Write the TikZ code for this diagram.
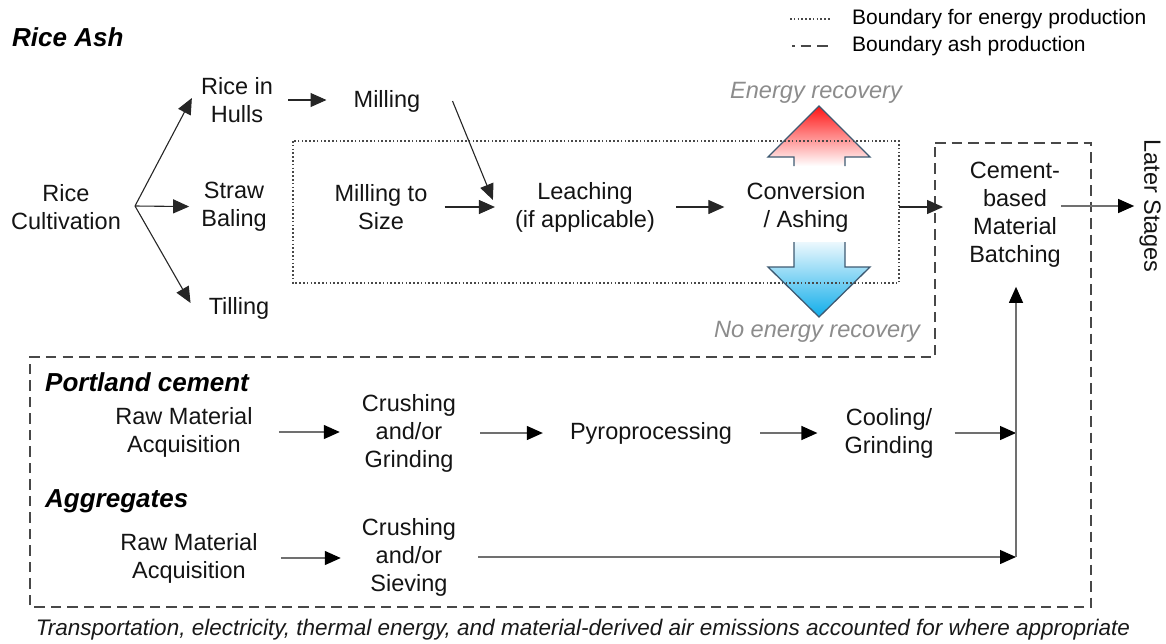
\documentclass[tikz,border=0pt]{standalone}
\usepackage{fontspec}
\setmainfont{Liberation Sans}
\usetikzlibrary{arrows.meta}
\definecolor{boxgray}{HTML}{484848}
\definecolor{linegray}{HTML}{707070}
\definecolor{labgray}{HTML}{8C8C8C}
\definecolor{outline}{HTML}{3E5A72}
\definecolor{hotred}{HTML}{FF1414}
\definecolor{coolblue}{HTML}{10ADEA}
\begin{document}
\begin{tikzpicture}[x=1pt,y=-1pt,>={Triangle[length=16pt,width=14pt]},
    txt/.style={align=center,inner sep=0pt,text=black!92,font=\fontsize{23.5}{28}\selectfont},
    head/.style={anchor=west,inner sep=0pt,font=\fontsize{26}{30}\selectfont\bfseries\itshape},
    gtxt/.style={inner sep=0pt,text=labgray,font=\fontsize{23.6}{28}\selectfont\itshape},
    legtxt/.style={anchor=west,inner sep=0pt,font=\fontsize{21}{25}\selectfont},
    flow/.style={->,line width=1.1pt,black!85},
    gflow/.style={-{Triangle[length=16pt,width=14pt,color=black]},line width=1.3pt,linegray},
    dotbox/.style={boxgray,line width=1.6pt,dash pattern=on 1.6pt off 2.2pt},
    dashbox/.style={boxgray,line width=1.8pt,dash pattern=on 10.5pt off 6pt}]
    \useasboundingbox (0,0) rectangle (1166,643);
    % energy arrows
    \shade[top color=hotred,bottom color=white](794,166)--(794,157)--(768,157)--(819,106)--(870,157)--(845,157)--(845,166)--cycle;
    \draw[outline,line width=1.3pt](794,166)--(794,157)--(768,157)--(819,106)--(870,157)--(845,157)--(845,166);
    \shade[top color=coolblue!8,bottom color=coolblue](794,242)--(845,242)--(845,267)--(870,267)--(819,317)--(768,267)--(794,267)--cycle;
    \draw[outline,line width=1.3pt](794,242)--(794,267)--(768,267)--(819,317)--(870,267)--(845,267)--(845,242);
    % boundaries
    \draw[dotbox](293,141)rectangle(899,283);
    \draw[dashbox](935,143)--(1091,143)--(1091,607)--(30,607)--(30,357)--(935,357)--cycle;
    \draw[dotbox](790,19)--(830,19);
    \draw[dashbox,dash phase=8pt](792,46)--(832,46);
    \node[legtxt] (legdot) at (852,19) {Boundary for energy production};
    \node[legtxt] (legdash) at (852,46) {Boundary ash production};
    % rice ash
    \node[head] (ricehead) at (12,37) {Rice Ash};
    \node[txt] (cult) at (66,207) {Rice\\Cultivation};
    \coordinate (branch) at (135,206);
    \node[txt] (hulls) at (237,100) {Rice in\\Hulls};
    \node[txt] (straw) at (234,207) {Straw\\Baling};
    \node[txt] (tilling) at (239,308) {Tilling};
    \node[txt] (milling) at (387,101) {Milling};
    \node[txt] (msize) at (381,207) {Milling to\\Size};
    \node[txt] (leach) at (585,207) {Leaching\\(if applicable)};
    \node[txt] (conv) at (806,207) {Conversion\\/ Ashing};
    \node[txt] (cement) at (1015,215) {Cement-\\based\\Material\\Batching};
    \node[txt,rotate=-90] (later) at (1150,206) {Later Stages};
    \node[gtxt] (recov) at (816,93) {Energy recovery};
    \node[gtxt] (norecov) at (817,332) {No energy recovery};
    \draw[flow](branch)--([xshift=-9pt,yshift=2pt]hulls.west);
    \draw[flow,shorten >=12pt](branch)--(straw);
    \draw[flow](branch)--([xshift=-18pt,yshift=5pt]tilling.west);
    \draw[flow,shorten <=15pt,shorten >=27pt](hulls.east)--(hulls.east-|milling.west);
    \draw[flow](milling.east)++(32,0)--([xshift=-22pt,yshift=7pt]leach.west);
    \draw[flow,shorten <=17pt,shorten >=20pt](msize.east)--(msize.east-|leach.west);
    \draw[flow,shorten <=21pt,shorten >=22pt](leach.east)--(leach.east-|conv.west);
    \draw[flow,shorten <=33pt,shorten >=26pt](conv.east)--(conv.east-|cement.west);
    \draw[gflow,shorten >=5pt](cement.east|-later.south)--(later.south);
    % portland cement and aggregates
    \node[head] (pchead) at (45,382) {Portland cement};
    \node[head] (agghead) at (45,501) {Aggregates};
    \node[txt] (rawpc) at (184,432) {Raw Material\\Acquisition};
    \node[txt] (crushpc) at (409,433) {Crushing\\and/or\\Grinding};
    \node[txt] (pyro) at (651,433) {Pyroprocessing};
    \node[txt] (cool) at (889,433) {Cooling/\\Grinding};
    \node[txt] (rawagg) at (189,558) {Raw Material\\Acquisition};
    \node[txt] (crushagg) at (409,557) {Crushing\\and/or\\Sieving};
    \coordinate (join) at (1016,557);
    \draw[gflow,shorten <=26pt,shorten >=22pt](rawpc.east)--(rawpc.east-|crushpc.west);
    \draw[gflow,shorten <=24pt,shorten >=27pt](crushpc.east)--(crushpc.east-|pyro.west);
    \draw[gflow,shorten <=28pt,shorten >=27pt](pyro.east)--(pyro.east-|cool.west);
    \draw[gflow,shorten <=21pt](cool.east)--(cool.east-|join);
    \draw[gflow,shorten <=23pt,shorten >=21pt](rawagg.east)--(rawagg.east-|crushagg.west);
    \draw[gflow,shorten <=22pt](crushagg.east)--(join);
    \draw[gflow,shorten >=19pt](join)--(join|-cement.south);
    \node[inner sep=0pt,text=black!90,font=\fontsize{22.5}{27}\selectfont\itshape] (foot) at (583,630) {Transportation, electricity, thermal energy, and material-derived air emissions accounted for where appropriate};
\end{tikzpicture}
\end{document}
